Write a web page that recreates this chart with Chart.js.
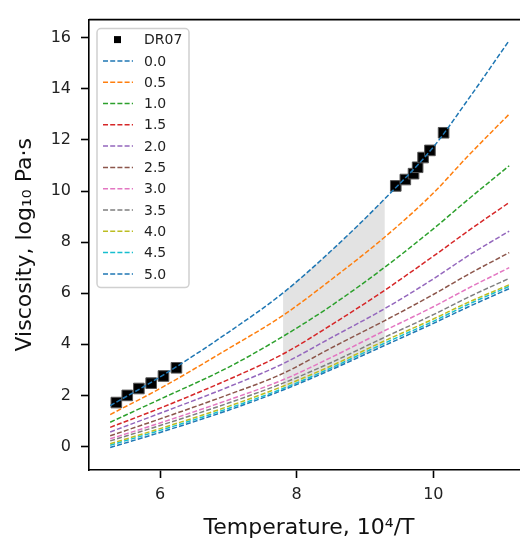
<!DOCTYPE html>
<html>
<head>
<meta charset="utf-8">
<script src="https://cdn.jsdelivr.net/npm/chart.js@4.4.0/dist/chart.umd.min.js"></script>
<style>
  html, body { margin: 0; padding: 0; background: #fff; overflow: hidden; }
  #wrap { width: 540px; height: 546px; }
</style>
</head>
<body>
<div id="wrap"><canvas id="myChart" width="540" height="546"></canvas></div>
<script>
// valores
const xTicks = [6, 8, 10];
const yTicks = [0, 2, 4, 6, 8, 10, 12, 14, 16];

const tempGrid = [5.27, 6.0, 7.0, 7.8, 8.5, 9.29, 10.0, 10.5, 11.11];
const waterLabels = ['0.0', '0.5', '1.0', '1.5', '2.0', '2.5', '3.0', '3.5', '4.0', '4.5', '5.0'];
const visc00 = [1.60, 2.72, 4.47, 6.01, 7.65, 9.70, 11.72, 13.55, 15.89];
const visc05 = [1.25, 2.27, 3.83, 5.13, 6.52, 8.20, 9.92, 11.35, 13.01];
const visc10 = [0.95, 1.85, 3.10, 4.31, 5.50, 7.02, 8.52, 9.65, 10.99];
const visc15 = [0.75, 1.50, 2.62, 3.62, 4.75, 6.12, 7.45, 8.42, 9.55];
const visc20 = [0.57, 1.30, 2.33, 3.24, 4.25, 5.40, 6.56, 7.45, 8.43];
const visc25 = [0.42, 1.08, 2.03, 2.86, 3.85, 4.93, 5.95, 6.72, 7.59];
const visc30 = [0.30, 0.92, 1.82, 2.61, 3.48, 4.54, 5.47, 6.18, 7.00];
const visc35 = [0.22, 0.82, 1.70, 2.48, 3.28, 4.28, 5.16, 5.83, 6.58];
const visc40 = [0.11, 0.70, 1.57, 2.36, 3.15, 4.14, 4.99, 5.63, 6.33];
const visc45 = [0.05, 0.63, 1.49, 2.27, 3.07, 4.05, 4.90, 5.55, 6.27];
const visc50 = [-0.04, 0.55, 1.42, 2.21, 3.00, 3.96, 4.82, 5.45, 6.18];

const dr07T = [5.36, 5.52, 5.69, 5.87, 6.05, 6.24, 9.45, 9.59, 9.71, 9.77, 9.85, 9.95, 10.15];
const dr07V = [1.72, 2.00, 2.27, 2.48, 2.76, 3.08, 10.20, 10.45, 10.68, 10.93, 11.31, 11.59, 12.28];

const shadeRange = [7.8, 9.29];

const allVisc = [visc00, visc05, visc10, visc15, visc20, visc25, visc30, visc35, visc40, visc45, visc50];
const colors = ['#1f77b4', '#ff7f0e', '#2ca02c', '#d62728', '#9467bd', '#8c564b',
                '#e377c2', '#7f7f7f', '#bcbd22', '#17becf', '#1f77b4'];
const FONT = "'DejaVu Sans', sans-serif";

const toPts = (xs, ys) => xs.map((x, i) => ({ x: x, y: ys[i] }));
const inShade = (xs, ys) => toPts(xs, ys).filter(p => p.x >= shadeRange[0] && p.x <= shadeRange[1]);

const datasets = [];
// zona sombreada
datasets.push({
    label: 'shadeTop', data: inShade(tempGrid, visc00), borderWidth: 0, pointRadius: 0,
    backgroundColor: '#e3e3e3', fill: { target: 1 }, order: 3, cubicInterpolationMode: 'monotone'
});
datasets.push({
    label: 'shadeBottom', data: inShade(tempGrid, visc50), borderWidth: 0, pointRadius: 0,
    fill: false, order: 3, cubicInterpolationMode: 'monotone'
});
// puntos DR07
datasets.push({
    label: 'DR07', data: toPts(dr07T, dr07V), showLine: false,
    pointStyle: 'rect', pointRadius: 7.5, pointHoverRadius: 7.5,
    backgroundColor: '#000', borderColor: '#555', borderWidth: 1, order: 2
});
// curvas
allVisc.forEach((v, i) => {
    datasets.push({
        label: waterLabels[i], data: toPts(tempGrid, v),
        borderColor: colors[i], borderWidth: 1.5, borderDash: [5, 2.2],
        pointRadius: 0, fill: false, order: 1, cubicInterpolationMode: 'monotone'
    });
});

const framePlugin = {
    id: 'frame',
    afterDraw(chart) {
        const ctx = chart.ctx;
        const a = chart.chartArea;
        ctx.save();
        ctx.strokeStyle = '#000';
        ctx.lineWidth = 1.6;
        ctx.beginPath();
        ctx.moveTo(a.left, a.top);
        ctx.lineTo(a.right, a.top);
        ctx.lineTo(a.right, a.bottom);
        ctx.stroke();

        // leyenda
        const bx = a.left + 8, by = a.top + 9, bw = 92, bh = 259;
        ctx.beginPath();
        ctx.roundRect(bx, by, bw, bh, 4);
        ctx.fillStyle = 'rgba(255,255,255,0.8)';
        ctx.fill();
        ctx.strokeStyle = '#d0d0d0';
        ctx.lineWidth = 1.5;
        ctx.stroke();

        const entries = chart.data.datasets.filter(d => !d.label.startsWith('shade'));
        const rowH = 21.3;
        ctx.font = '14px ' + FONT;
        ctx.textBaseline = 'middle';
        entries.forEach((d, i) => {
            const y = by + 11 + i * rowH;
            if (d.showLine === false) {
                ctx.fillStyle = '#000';
                ctx.fillRect(bx + 17, y - 3.5, 7, 7);
            } else {
                ctx.strokeStyle = d.borderColor;
                ctx.lineWidth = 1.5;
                ctx.setLineDash([5, 2.2]);
                ctx.beginPath();
                ctx.moveTo(bx + 6, y);
                ctx.lineTo(bx + 36, y);
                ctx.stroke();
                ctx.setLineDash([]);
            }
            ctx.fillStyle = '#222';
            ctx.fillText(d.label, bx + 47, y + 1);
        });
        ctx.restore();
    }
};

const ctx = document.getElementById('myChart').getContext('2d');
const myChart = new Chart(ctx, {
    type: 'line',
    data: { datasets: datasets },
    options: {
        responsive: false,
        animation: false,
        layout: { padding: { left: 0, top: 4, right: 11, bottom: 0 } },
        plugins: { legend: { display: false }, tooltip: { enabled: false } },
        scales: {
            x: {
                type: 'linear', min: 4.96, max: 11.40,
                afterFit: s => { s.height = 76; },
                afterBuildTicks: s => { s.ticks = xTicks.map(v => ({ value: v })); },
                grid: { drawOnChartArea: false, drawTicks: true, tickLength: 8, tickColor: '#000', tickWidth: 1.6 },
                border: { color: '#000', width: 1.6 },
                ticks: { font: { family: FONT, size: 16 }, color: '#222', padding: 7, maxRotation: 0 },
                title: { display: true, text: 'Temperature, 10⁴/T', font: { family: FONT, size: 22 }, color: '#111', padding: { top: 0, bottom: 5 } }
            },
            y: {
                type: 'linear', min: -0.92, max: 16.71,
                afterFit: s => { s.width = 89; },
                afterBuildTicks: s => { s.ticks = yTicks.map(v => ({ value: v })); },
                grid: { drawOnChartArea: false, drawTicks: true, tickLength: 8, tickColor: '#000', tickWidth: 1.6 },
                border: { color: '#000', width: 1.6 },
                ticks: { font: { family: FONT, size: 16 }, color: '#222', padding: 10 },
                title: { display: true, text: 'Viscosity, log₁₀ Pa·s', font: { family: FONT, size: 22 }, color: '#111', padding: { top: 12, bottom: 0 } }
            }
        }
    },
    plugins: [framePlugin]
});
</script>
</body>
</html>
